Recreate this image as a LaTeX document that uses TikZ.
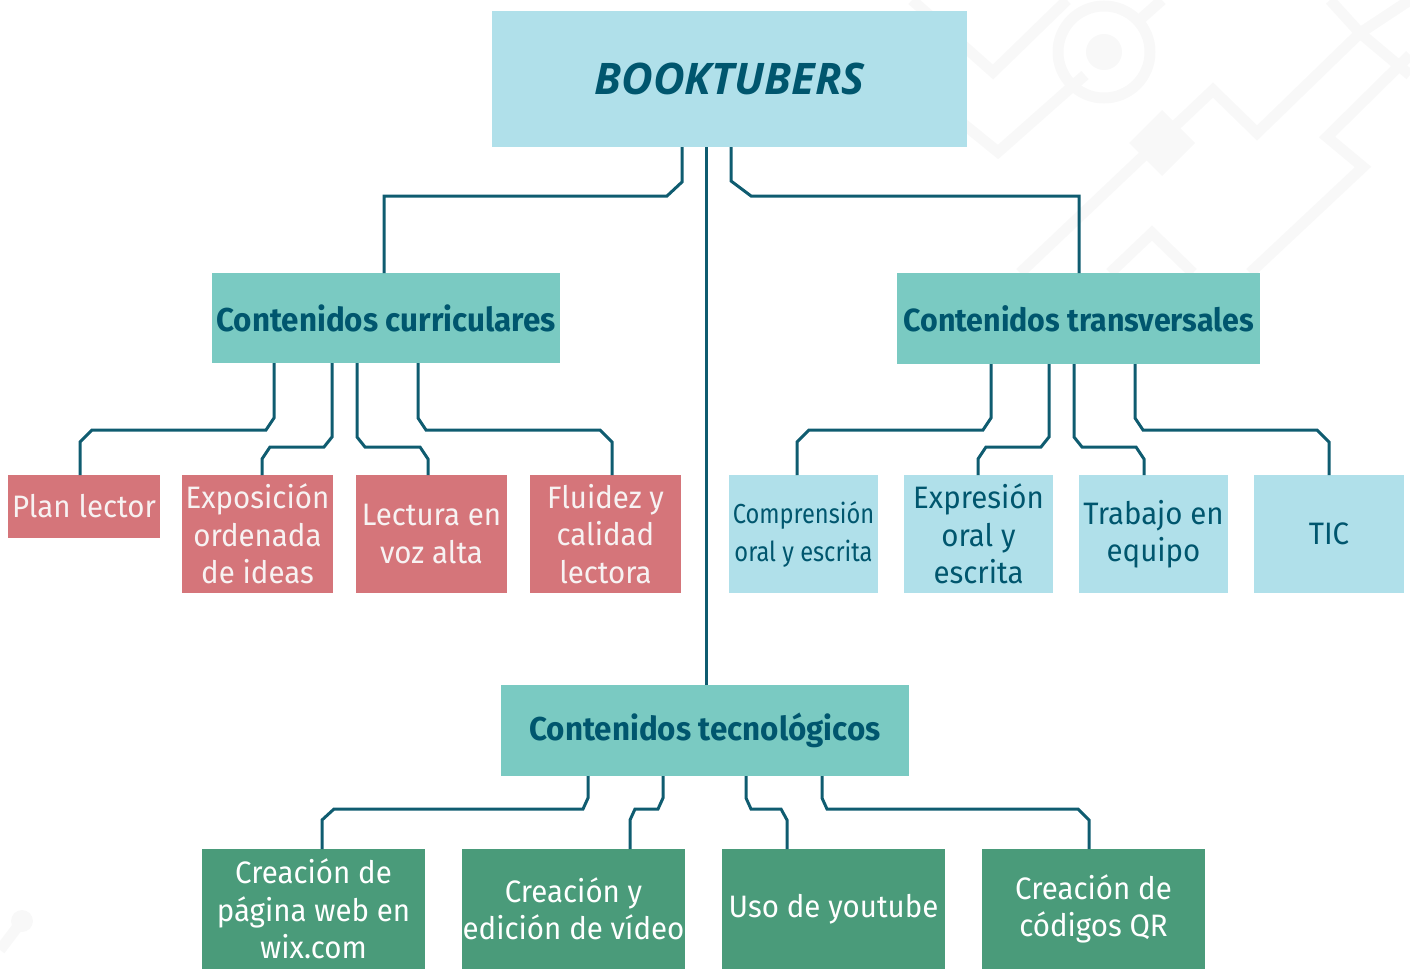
\documentclass[tikz,border=0pt]{standalone}
\usepackage{fontspec}
\setmainfont{Fira Sans}[FakeStretch=0.95]
\newfontfamily\titlefont{Open Sans}
\newfontfamily\headfont{Fira Sans}[FakeStretch=0.95]
\newfontfamily\narrowfont{Fira Sans}[FakeStretch=0.86]
\definecolor{lblue}{HTML}{B0E0EA}
\definecolor{hteal}{HTML}{7ACAC2}
\definecolor{rose}{HTML}{D5757A}
\definecolor{mgreen}{HTML}{4A9B7A}
\definecolor{lcol}{HTML}{0F5C70}
\definecolor{dtext}{HTML}{00566E}
\definecolor{wm}{RGB}{248,248,248}
\definecolor{wtext}{HTML}{F7F2F2}
\tikzset{
  box/.style={rectangle, inner sep=0pt, outer sep=0pt, align=center, anchor=north west},
  titlebox/.style={box, fill=lblue, text=dtext, font=\titlefont\bfseries\itshape\fontsize{43.5}{50}\selectfont},
  headbox/.style={box, fill=hteal, text=dtext, font=\headfont\bfseries\fontsize{33}{40}\selectfont},
  redbox/.style={box, fill=rose, text=wtext, font=\fontsize{31}{37.5}\selectfont},
  bluebox/.style={box, fill=lblue, text=dtext, font=\fontsize{31}{37.5}\selectfont},
  greenbox/.style={box, fill=mgreen, text=white, font=\fontsize{31}{37.5}\selectfont},
  conn/.style={draw=lcol, line width=3pt, line join=miter},
  wmline/.style={draw=wm, line width=11pt}
}
\begin{document}
\begin{tikzpicture}[x=1pt,y=-1pt]
\useasboundingbox (0,0) rectangle (1410,969);
% faint background watermark
\draw[wmline] (912,0) -- (993,72) -- (1067,0);
\draw[wmline] (950,113) -- (998,152) -- (1085,75);
\draw[wmline] (1104,52) circle (46);
\fill[wm] (1104,52) circle (18);
\draw[wmline] (1135,24) -- (1162,0);
\draw[wmline] (1020,273) -- (1213,90) -- (1257,133) -- (1360,33) -- (1410,0);
\draw[wmline] (1330,0) -- (1360,33) -- (1410,75);
\fill[wm] (1162,110) -- (1195,143) -- (1162,176) -- (1129,143) -- cycle;
\draw[wmline] (1410,55) -- (1327,137) -- (1363,167) -- (1250,273);
\draw[wmline] (1110,273) -- (1152,233) -- (1193,273);
\draw[wmline] (0,950) -- (22,921);
\fill[wm] (22,921) circle (11);
% title
\node[titlebox, minimum width=475pt, minimum height=136pt] (bk) at (492,11) {\raisebox{-3pt}{BOOKTUBERS}};
% headers
\node[headbox, minimum width=348pt, minimum height=90pt] (cc) at (212,273) {Contenidos curriculares};
\node[headbox, minimum width=363pt, minimum height=91pt, font=\headfont\bfseries\fontsize{32}{40}\selectfont] (ct) at (897,273) {Contenidos transversales};
\node[headbox, minimum width=408pt, minimum height=91pt] (cte) at (501,685) {Contenidos tecnológicos};
% curricular children
\node[redbox, minimum width=152pt, minimum height=63pt] (pl) at (8,475) {Plan lector};
\node[redbox, minimum width=151pt, minimum height=118pt] (ex) at (182,475) {Exposición\\ordenada\\de ideas};
\node[redbox, minimum width=151pt, minimum height=118pt] (lv) at (356,475) {Lectura en\\voz alta};
\node[redbox, minimum width=151pt, minimum height=118pt] (fl) at (530,475) {Fluidez y\\calidad\\lectora};
% transversal children
\node[bluebox, minimum width=149pt, minimum height=118pt, font=\narrowfont\fontsize{27.5}{38}\selectfont] (co) at (729,475) {Comprensión\\oral y escrita};
\node[bluebox, minimum width=149pt, minimum height=118pt] (eo) at (904,475) {Expresión\\oral y\\escrita};
\node[bluebox, minimum width=149pt, minimum height=118pt] (te) at (1079,475) {Trabajo en\\equipo};
\node[bluebox, minimum width=150pt, minimum height=118pt] (tic) at (1254,475) {TIC};
% technological children
\node[greenbox, minimum width=223pt, minimum height=120pt] (pw) at (202,849) {Creación de\\página web en\\wix.com};
\node[greenbox, minimum width=223pt, minimum height=120pt] (ev) at (462,849) {Creación y\\edición de vídeo};
\node[greenbox, minimum width=223pt, minimum height=120pt] (yt) at (722,849) {Uso de youtube};
\node[greenbox, minimum width=223pt, minimum height=120pt] (qr) at (982,849) {Creación de\\códigos QR};
% connectors from title
\draw[conn] (bk.south -| 682,0) -- (682,182) -- (667,196) -- (384,196) -- (cc.north -| 384,0);
\draw[conn] (bk.south -| 706,0) -- (cte.north -| 706,0);
\draw[conn] (bk.south -| 731,0) -- (731,181) -- (751,196) -- (1079,196) -- (ct.north -| 1079,0);
% curricular
\draw[conn] (cc.south -| 274,0) -- (274,418) -- (266,430) -- (92,430) -- (80,442) -- (pl.north -| 80,0);
\draw[conn] (cc.south -| 332,0) -- (332,437) -- (324,447) -- (270,447) -- (262,459) -- (ex.north -| 262,0);
\draw[conn] (cc.south -| 357,0) -- (357,437) -- (365,447) -- (420,447) -- (428,459) -- (lv.north -| 428,0);
\draw[conn] (cc.south -| 418,0) -- (418,418) -- (426,430) -- (600,430) -- (612,442) -- (fl.north -| 612,0);
% transversal
\draw[conn] (ct.south -| 991,0) -- (991,418) -- (983,430) -- (809,430) -- (797,442) -- (co.north -| 797,0);
\draw[conn] (ct.south -| 1049,0) -- (1049,437) -- (1041,447) -- (986,447) -- (978,459) -- (eo.north -| 978,0);
\draw[conn] (ct.south -| 1074,0) -- (1074,437) -- (1082,447) -- (1136,447) -- (1144,459) -- (te.north -| 1144,0);
\draw[conn] (ct.south -| 1135,0) -- (1135,418) -- (1143,430) -- (1317,430) -- (1329,442) -- (tic.north -| 1329,0);
% technological
\draw[conn] (cte.south -| 588,0) -- (588,798) -- (583,809) -- (334,809) -- (322,820) -- (pw.north -| 322,0);
\draw[conn] (cte.south -| 663,0) -- (663,798) -- (658,809) -- (635,809) -- (630,820) -- (ev.north -| 630,0);
\draw[conn] (cte.south -| 746,0) -- (746,798) -- (751,809) -- (781,809) -- (787,820) -- (yt.north -| 787,0);
\draw[conn] (cte.south -| 822,0) -- (822,798) -- (827,809) -- (1078,809) -- (1089,820) -- (qr.north -| 1089,0);
\end{tikzpicture}
\end{document}
